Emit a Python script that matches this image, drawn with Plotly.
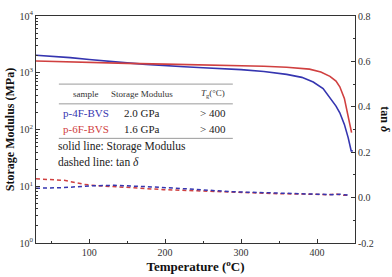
import plotly.graph_objects as go

# Storage modulus (MPa), solid lines, left log axis
T_4F = [30, 50, 75, 100, 125, 150, 175, 200, 225, 250, 275, 300, 330, 360, 380, 395, 408, 417, 425, 430, 436, 441, 445, 447]
E_4F = [2030, 1955, 1845, 1707, 1578, 1490, 1406, 1325, 1275, 1227, 1180, 1135, 1050, 935, 830, 685, 525, 367, 258, 197, 123, 72, 42, 42]
T_6F = [30, 50, 100, 150, 200, 250, 300, 330, 360, 390, 405, 417, 425, 430, 436, 440, 444, 445.5]
E_6F = [1610, 1578, 1518, 1462, 1417, 1378, 1325, 1300, 1250, 1157, 1030, 865, 711, 565, 353, 197, 119, 88]

# tan delta, dashed lines, right axis
Tt_4F = [30, 67, 102, 133, 177, 220, 242, 286, 351, 394, 420, 430, 439, 443]
tan_4F = [0.041, 0.044, 0.052, 0.054, 0.048, 0.041, 0.036, 0.026, 0.019, 0.016, 0.013, 0.015, 0.011, 0.010]
Tt_6F = [30, 67, 94, 111, 155, 198, 242, 286, 351, 394, 415, 425, 435, 443]
tan_6F = [0.083, 0.076, 0.058, 0.052, 0.044, 0.035, 0.030, 0.024, 0.017, 0.015, 0.012, 0.016, 0.010, 0.011]

x_ticks = [100, 200, 300, 400]
y_ticks = [1, 10, 100, 1000, 10000]
y_ticktext = ["10<sup>0</sup>", "10<sup>1</sup>", "10<sup>2</sup>", "10<sup>3</sup>", "10<sup>4</sup>"]
y_minor = [m * 10 ** d for d in range(4) for m in range(2, 10)]
y2_ticks = [-0.2, 0.0, 0.2, 0.4, 0.6, 0.8]
y2_ticktext = ["-0.2", "0.0", "0.2", "0.4", "0.6", "0.8"]

table_header = ["sample", "Storage Modulus", "<i>T</i><sub>g</sub>(°C)"]
table_rows = [["p-4F-BVS", "2.0 GPa", "> 400"], ["p-6F-BVS", "1.6 GPa", "> 400"]]

BLUE = "#3535b0"
RED = "#d04040"
FONT = "Liberation Serif"

fig = go.Figure()
fig.add_trace(go.Scatter(x=T_4F, y=E_4F, mode="lines", line=dict(color=BLUE, width=1.6), showlegend=False))
fig.add_trace(go.Scatter(x=T_6F, y=E_6F, mode="lines", line=dict(color=RED, width=1.6), showlegend=False))
fig.add_trace(go.Scatter(x=Tt_6F, y=tan_6F, mode="lines", yaxis="y2", line=dict(color=RED, width=1.5, dash="4px,3px"), showlegend=False))
fig.add_trace(go.Scatter(x=Tt_4F, y=tan_4F, mode="lines", yaxis="y2", line=dict(color=BLUE, width=1.5, dash="4px,3px"), showlegend=False))

tickfont = dict(family=FONT, size=10, color="#333")
fig.update_layout(
    width=392, height=277,
    margin=dict(l=34, r=37, t=9, b=31),
    plot_bgcolor="white", paper_bgcolor="white",
    font=dict(family=FONT, color="#222"),
    xaxis=dict(range=[30, 450], tickvals=x_ticks, ticks="inside", ticklen=4, tickcolor="#333",
               showline=True, linecolor="#333", linewidth=1, mirror=True, showgrid=False, zeroline=False,
               tickfont=tickfont,
               minor=dict(dtick=50, tick0=0, ticks="inside", ticklen=2.5, tickcolor="#333"),
               title=dict(text="<b>Temperature (<sup>o</sup>C)</b>", font=dict(family=FONT, size=13, color="#111"), standoff=1)),
    yaxis=dict(type="log", range=[0, 4], tickvals=y_ticks, ticktext=y_ticktext, ticks="inside", ticklen=4,
               tickcolor="#333", showline=True, linecolor="#333", linewidth=1, showgrid=False, zeroline=False,
               tickfont=tickfont,
               minor=dict(tickvals=y_minor, ticks="inside", ticklen=2, tickcolor="#333", showgrid=False),
               title=dict(text="<b>Storage Modulus (MPa)</b>", font=dict(family=FONT, size=12, color="#111"), standoff=2)),
    yaxis2=dict(overlaying="y", side="right", range=[-0.2, 0.8], tickvals=y2_ticks, ticktext=y2_ticktext,
                ticks="inside", ticklen=4, tickcolor="#333", showline=True, linecolor="#333", linewidth=1,
                showgrid=False, zeroline=False, tickfont=tickfont,
                minor=dict(dtick=0.1, tick0=0, ticks="inside", ticklen=2.5, tickcolor="#333")),
)

# right-axis title, reading top to bottom
fig.add_annotation(x=1.0, xref="paper", xshift=30, xanchor="center", y=0.545, yref="paper", yanchor="middle",
                   text="<b>tan <i>δ</i></b>", textangle=90, showarrow=False,
                   font=dict(family=FONT, size=12, color="#111"))

# table rules
x0, x1 = 0.0717, 0.617
for yy in [0.700, 0.613, 0.461]:
    fig.add_shape(type="line", xref="paper", yref="paper", x0=x0, x1=x1, y0=yy, y1=yy,
                  line=dict(color="#9a9a9a", width=1))

col_x = [0.156, 0.333, 0.555]
for cx, txt in zip(col_x, table_header):
    fig.add_annotation(x=cx, y=0.658, xref="paper", yref="paper", xanchor="center", yanchor="middle",
                       text=txt, showarrow=False, font=dict(family=FONT, size=9, color="#333"))
row_y = [0.571, 0.503]
row_col = [BLUE, RED]
for ry, rc, row in zip(row_y, row_col, table_rows):
    for j, (cx, txt) in enumerate(zip(col_x, row)):
        fig.add_annotation(x=cx, y=ry, xref="paper", yref="paper", xanchor="center", yanchor="middle",
                           text=txt, showarrow=False,
                           font=dict(family=FONT, size=11, color=rc if j == 0 else "#222"))

fig.add_annotation(x=x0, y=0.426, xref="paper", yref="paper", xanchor="left", yanchor="middle", xshift=-3,
                   text="solid line: Storage Modulus", showarrow=False,
                   font=dict(family=FONT, size=11.5, color="#222"))
fig.add_annotation(x=x0, y=0.359, xref="paper", yref="paper", xanchor="left", yanchor="middle", xshift=-3,
                   text="dashed line: tan <i>δ</i>", showarrow=False,
                   font=dict(family=FONT, size=11.5, color="#222"))

fig.write_html("out.html", config={"displayModeBar": False},
               post_script="document.body.style.margin='0';document.body.style.overflow='hidden';")
